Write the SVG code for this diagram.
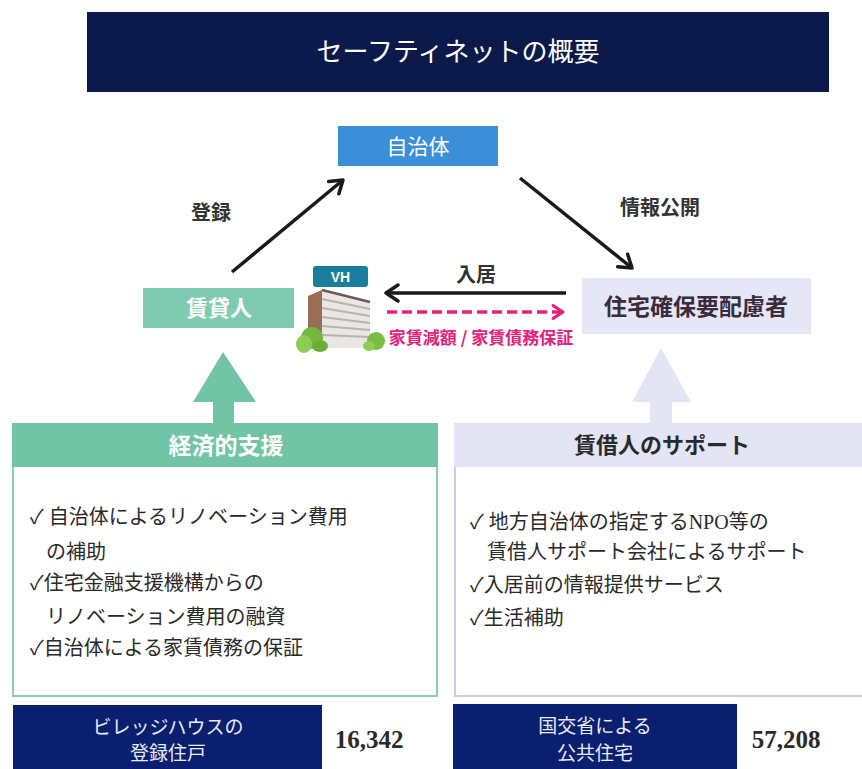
<svg xmlns="http://www.w3.org/2000/svg" width="862" height="769" viewBox="0 0 862 769">
  <defs>
    <style>
      .serif { font-family: "Liberation Serif", "Noto Sans CJK JP", serif; }
      .sans { font-family: "Noto Sans CJK JP", "Liberation Sans", sans-serif; }
      .body { font-size: 20px; fill: #2a2a2a; }
      .lbl { font-size: 20px; font-weight: bold; fill: #333; }
      .flow { fill: none; stroke: #1a1a1a; stroke-width: 3.5; }
    </style>
    <marker id="chev" viewBox="0 0 20 20" refX="16" refY="10" markerWidth="20" markerHeight="20" markerUnits="userSpaceOnUse" orient="auto">
      <path d="M4,2 L16,10 L4,18" fill="none" stroke="#1a1a1a" stroke-width="3.5" stroke-linecap="round" stroke-linejoin="round"/>
    </marker>
    <marker id="chevPink" viewBox="0 0 20 20" refX="16" refY="10" markerWidth="18" markerHeight="18" markerUnits="userSpaceOnUse" orient="auto">
      <path d="M5,3 L16,10 L5,17" fill="none" stroke="#e8207a" stroke-width="3.5" stroke-linecap="round" stroke-linejoin="round"/>
    </marker>
  </defs>

  <rect width="862" height="769" fill="#ffffff"/>

  <!-- title bar -->
  <g id="title">
    <rect x="87" y="12" width="742" height="80" fill="#0b1a4b"/>
    <text x="458" y="61" text-anchor="middle" class="serif" font-size="26" fill="#ffffff">セーフティネットの概要</text>
  </g>

  <!-- connectors -->
  <g id="connectors">
    <line x1="232" y1="272" x2="343" y2="180" class="flow" marker-end="url(#chev)"/>
    <line x1="520" y1="178" x2="632" y2="268" class="flow" marker-end="url(#chev)"/>
    <line x1="566" y1="293" x2="386" y2="293" class="flow" marker-end="url(#chev)"/>
    <line x1="387" y1="312" x2="563" y2="312" fill="none" stroke="#e8207a" stroke-width="3.5" stroke-dasharray="10,5" marker-end="url(#chevPink)"/>
    <text x="211" y="220" text-anchor="middle" class="sans lbl">登録</text>
    <text x="660" y="215" text-anchor="middle" class="sans lbl">情報公開</text>
    <text x="476" y="282" text-anchor="middle" class="sans lbl">入居</text>
    <text x="481" y="344" text-anchor="middle" class="sans" font-size="17" font-weight="bold" fill="#e8207a">家賃減額 / 家賃債務保証</text>
  </g>

  <!-- local government -->
  <g id="jichitai">
    <rect x="338" y="126" width="160" height="40" fill="#3b8fd8"/>
    <text x="418" y="154" text-anchor="middle" class="sans" font-size="21" fill="#ffffff">自治体</text>
  </g>

  <!-- landlord -->
  <g id="chintainin">
    <rect x="143" y="288" width="151" height="40" fill="#7fcbb1"/>
    <text x="219" y="316" text-anchor="middle" class="sans" font-size="22" font-weight="bold" fill="#ffffff">賃貸人</text>
  </g>

  <!-- housing-vulnerable tenants -->
  <g id="hairyosha">
    <rect x="582" y="278" width="229" height="56" fill="#e5e7f6"/>
    <text x="696" y="315" text-anchor="middle" class="sans" font-size="23" font-weight="bold" fill="#3a2c3c">住宅確保要配慮者</text>
  </g>

  <!-- Village House building icon -->
  <g id="vh">
    <rect x="313" y="266" width="55" height="21" rx="3" fill="#1b7d9c"/>
    <text x="340.5" y="282" text-anchor="middle" font-family="Liberation Sans, sans-serif" font-size="14" font-weight="bold" fill="#ffffff">VH</text>
    <polygon points="308,296 322,290 322,348 308,348" fill="#9a6e55"/>
    <polygon points="322,290 370,302 370,348 322,348" fill="#e9e6e3"/>
    <g stroke="#b9b3ae" stroke-width="2">
      <line x1="322" y1="299" x2="370" y2="309"/>
      <line x1="322" y1="308" x2="370" y2="316"/>
      <line x1="322" y1="317" x2="370" y2="323"/>
      <line x1="322" y1="326" x2="370" y2="330"/>
      <line x1="322" y1="335" x2="370" y2="337"/>
    </g>
    <line x1="322" y1="290" x2="370" y2="302" stroke="#6a5a55" stroke-width="2.5"/>
    <ellipse cx="312" cy="338" rx="11" ry="11" fill="#72b83e"/>
    <ellipse cx="304" cy="344" rx="8" ry="9" fill="#8ccc52"/>
    <ellipse cx="320" cy="346" rx="8" ry="6" fill="#6aae38"/>
    <ellipse cx="376" cy="341" rx="9" ry="9" fill="#79bd44"/>
    <ellipse cx="369" cy="346" rx="6" ry="5" fill="#8ccc52"/>
  </g>

  <!-- financial support panel -->
  <g id="keizai">
    <polygon points="223,352 256,402 234,402 234,424 213,424 213,402 193,402" fill="#72c4a6"/>
    <rect x="13" y="424" width="424" height="272" fill="#ffffff" stroke="#8ccdb5" stroke-width="2"/>
    <rect x="12" y="423" width="426" height="44" fill="#72c4a6"/>
    <text x="226" y="454" text-anchor="middle" class="sans" font-size="23" font-weight="bold" fill="#ffffff">経済的支援</text>
    <g class="serif body">
      <text x="30" y="524">✓ 自治体によるリノベーション費用</text>
      <text x="46" y="559">の補助</text>
      <text x="30" y="590">✓住宅金融支援機構からの</text>
      <text x="46" y="624">リノベーション費用の融資</text>
      <text x="30" y="655">✓自治体による家賃債務の保証</text>
    </g>
  </g>

  <!-- tenant support panel -->
  <g id="shien">
    <polygon points="661,348 691,402 672,402 672,424 650,424 650,402 632,402" fill="#e3e5f5"/>
    <rect x="455" y="424" width="420" height="272" fill="#ffffff" stroke="#c9cde8" stroke-width="2"/>
    <rect x="454" y="423" width="420" height="44" fill="#e3e5f5"/>
    <text x="662" y="453" text-anchor="middle" class="sans" font-size="22" font-weight="bold" fill="#2a2a2a">賃借人のサポート</text>
    <g class="serif body">
      <text x="470" y="529">✓ 地方自治体の指定するNPO等の</text>
      <text x="487" y="559">賃借人サポート会社によるサポート</text>
      <text x="470" y="592">✓入居前の情報提供サービス</text>
      <text x="470" y="625">✓生活補助</text>
    </g>
  </g>

  <!-- registered units -->
  <g id="stat-vh">
    <rect x="13" y="705" width="309" height="64" fill="#0a1f70"/>
    <text x="168" y="734" text-anchor="middle" class="serif" font-size="19" fill="#e8eaf4">ビレッジハウスの</text>
    <text x="168" y="760" text-anchor="middle" class="serif" font-size="19" fill="#e8eaf4">登録住戸</text>
    <text x="369" y="748" text-anchor="middle" class="serif" font-size="25" font-weight="bold" fill="#2a2a2a">16,342</text>
  </g>

  <!-- public housing -->
  <g id="stat-public">
    <rect x="453" y="704" width="284" height="65" fill="#0a1f70"/>
    <text x="595" y="733" text-anchor="middle" class="serif" font-size="19" fill="#e8eaf4">国交省による</text>
    <text x="595" y="760" text-anchor="middle" class="serif" font-size="19" fill="#e8eaf4">公共住宅</text>
    <text x="786" y="748" text-anchor="middle" class="serif" font-size="25" font-weight="bold" fill="#2a2a2a">57,208</text>
  </g>
</svg>
